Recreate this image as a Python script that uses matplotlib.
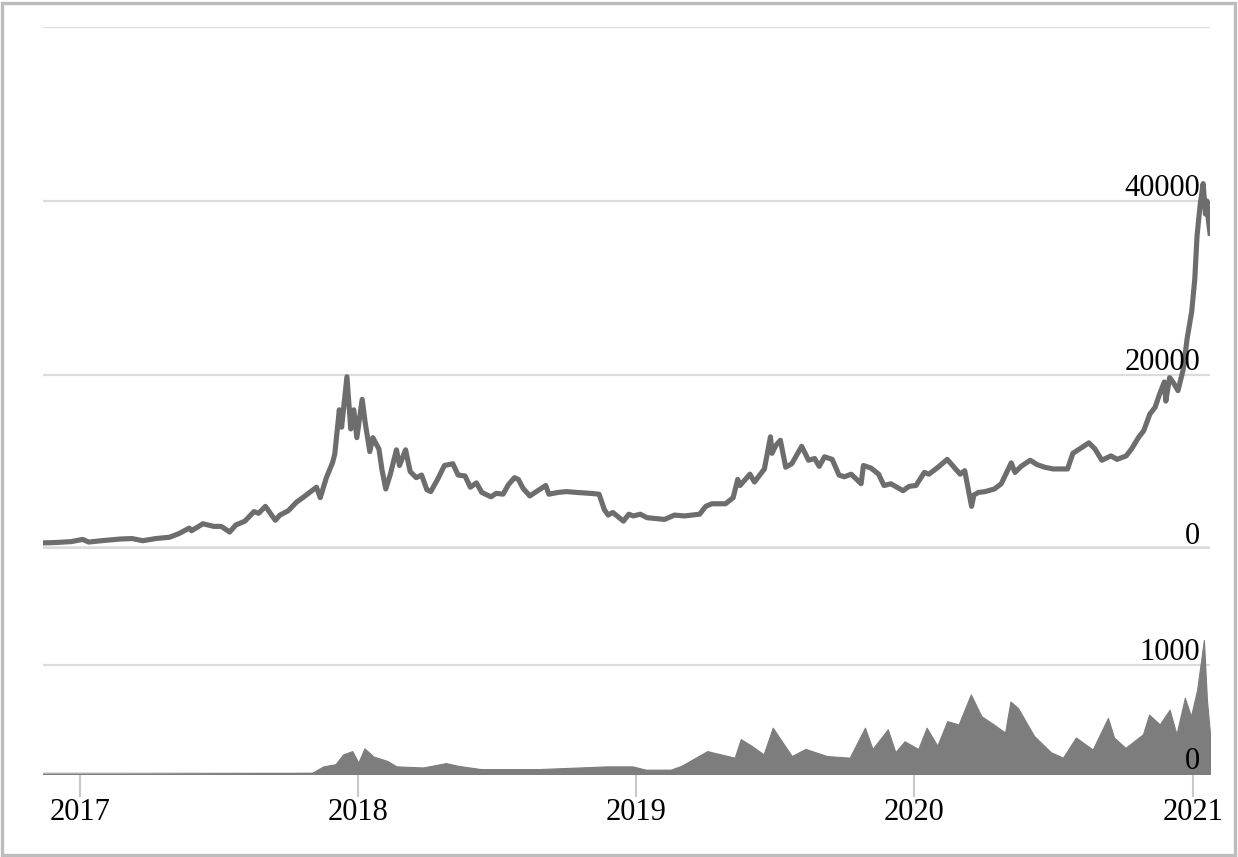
import pandas as pd
import matplotlib
matplotlib.use("Agg")
import matplotlib.pyplot as plt
from matplotlib.patches import Rectangle

plt.rcParams['font.family'] = ['Liberation Serif', 'DejaVu Serif']

# price readings (USD)
price_dates = [
    '2016-11-13', '2016-12-01', '2016-12-20', '2017-01-04', '2017-01-12', '2017-02-01',
    '2017-02-23', '2017-03-10', '2017-03-24', '2017-04-10', '2017-04-28', '2017-05-10',
    '2017-05-24', '2017-05-27', '2017-06-11', '2017-06-25', '2017-07-05', '2017-07-16',
    '2017-07-24', '2017-08-05', '2017-08-17', '2017-08-23', '2017-09-01', '2017-09-14',
    '2017-09-20', '2017-10-01', '2017-10-12', '2017-10-20', '2017-11-01', '2017-11-07',
    '2017-11-12', '2017-11-20', '2017-11-28', '2017-12-01', '2017-12-07', '2017-12-10',
    '2017-12-17', '2017-12-22', '2017-12-26', '2017-12-30', '2018-01-06', '2018-01-10',
    '2018-01-16', '2018-01-20', '2018-01-28', '2018-02-01', '2018-02-06', '2018-02-12',
    '2018-02-20', '2018-02-24', '2018-03-04', '2018-03-10', '2018-03-18', '2018-03-25',
    '2018-04-01', '2018-04-06', '2018-04-15', '2018-04-24', '2018-05-05', '2018-05-12',
    '2018-05-21', '2018-05-28', '2018-06-05', '2018-06-12', '2018-06-24', '2018-07-01',
    '2018-07-10', '2018-07-17', '2018-07-25', '2018-07-30', '2018-08-05', '2018-08-14',
    '2018-08-21', '2018-08-30', '2018-09-04', '2018-09-08', '2018-09-20', '2018-10-01',
    '2018-10-15', '2018-11-01', '2018-11-13', '2018-11-20', '2018-11-25', '2018-12-01',
    '2018-12-15', '2018-12-22', '2018-12-28', '2019-01-06', '2019-01-15', '2019-02-07',
    '2019-02-20', '2019-03-05', '2019-03-25', '2019-04-02', '2019-04-10', '2019-04-28',
    '2019-05-08', '2019-05-14', '2019-05-17', '2019-05-30', '2019-06-05', '2019-06-18',
    '2019-06-26', '2019-06-28', '2019-07-03', '2019-07-09', '2019-07-16', '2019-07-24',
    '2019-08-06', '2019-08-15', '2019-08-23', '2019-08-29', '2019-09-05', '2019-09-15',
    '2019-09-24', '2019-10-01', '2019-10-10', '2019-10-23', '2019-10-26', '2019-11-05',
    '2019-11-15', '2019-11-22', '2019-12-01', '2019-12-17', '2019-12-25', '2020-01-03',
    '2020-01-14', '2020-01-20', '2020-02-01', '2020-02-13', '2020-02-20', '2020-03-01',
    '2020-03-07', '2020-03-16', '2020-03-19', '2020-03-25', '2020-04-03', '2020-04-15',
    '2020-04-24', '2020-05-01', '2020-05-07', '2020-05-12', '2020-05-20', '2020-06-01',
    '2020-06-10', '2020-06-20', '2020-07-01', '2020-07-20', '2020-07-27', '2020-08-10',
    '2020-08-17', '2020-08-25', '2020-09-03', '2020-09-15', '2020-09-23', '2020-10-05',
    '2020-10-12', '2020-10-21', '2020-10-28', '2020-11-05', '2020-11-12', '2020-11-17',
    '2020-11-24', '2020-11-26', '2020-12-01', '2020-12-06', '2020-12-12', '2020-12-19',
    '2020-12-24', '2020-12-30', '2021-01-03', '2021-01-06', '2021-01-10', '2021-01-14',
    '2021-01-17', '2021-01-19', '2021-01-21', '2021-01-23',
]
price_values = [
    700, 750, 850, 1100, 800, 980,
    1150, 1200, 950, 1200, 1350, 1750,
    2400, 2100, 2900, 2600, 2600, 1950,
    2750, 3200, 4300, 4100, 4900, 3300,
    3900, 4400, 5400, 5900, 6700, 7100,
    5900, 8200, 9900, 10900, 16000, 14000,
    19800, 13800, 16000, 12800, 17200, 14500,
    11200, 12800, 11500, 9100, 6900, 8600,
    11400, 9600, 11400, 8900, 8200, 8500,
    6800, 6600, 8000, 9600, 9800, 8500,
    8400, 7100, 7600, 6500, 6000, 6400,
    6300, 7400, 8200, 8000, 7000, 6100,
    6500, 7000, 7300, 6300, 6500, 6600,
    6500, 6400, 6300, 4500, 3900, 4200,
    3200, 4000, 3800, 4000, 3600, 3400,
    3900, 3800, 4000, 4900, 5200, 5200,
    5900, 8000, 7300, 8600, 7700, 9200,
    12900, 11000, 11900, 12500, 9400, 9800,
    11800, 10200, 10400, 9500, 10600, 10300,
    8500, 8300, 8600, 7500, 9600, 9300,
    8600, 7300, 7500, 6700, 7200, 7300,
    8800, 8600, 9400, 10300, 9600, 8600,
    9000, 4900, 6200, 6500, 6600, 6900,
    7500, 8800, 9900, 8800, 9500, 10200,
    9700, 9400, 9200, 9200, 11000, 11800,
    12200, 11500, 10200, 10700, 10300, 10700,
    11500, 12800, 13600, 15500, 16300, 17600,
    19200, 17000, 19700, 19100, 18200, 20700,
    24200, 27300, 31000, 36000, 39500, 42000,
    38500, 40000, 37700, 36300,
]

# volume readings
volume_dates = [
    '2016-11-13', '2017-03-01', '2017-06-01', '2017-09-01', '2017-11-01', '2017-11-16',
    '2017-12-02', '2017-12-12', '2017-12-24', '2018-01-01', '2018-01-09', '2018-01-21',
    '2018-02-08', '2018-02-20', '2018-03-27', '2018-04-26', '2018-05-12', '2018-06-11',
    '2018-08-25', '2018-11-24', '2018-12-27', '2019-01-13', '2019-02-15', '2019-03-01',
    '2019-04-04', '2019-05-10', '2019-05-18', '2019-06-01', '2019-06-17', '2019-06-29',
    '2019-07-09', '2019-07-24', '2019-08-11', '2019-09-08', '2019-10-08', '2019-10-28',
    '2019-11-07', '2019-11-27', '2019-12-07', '2019-12-19', '2020-01-06', '2020-01-17',
    '2020-01-31', '2020-02-13', '2020-02-28', '2020-03-15', '2020-03-29', '2020-04-14',
    '2020-04-29', '2020-05-06', '2020-05-16', '2020-06-06', '2020-06-28', '2020-07-14',
    '2020-07-31', '2020-08-22', '2020-09-11', '2020-09-19', '2020-10-04', '2020-10-27',
    '2020-11-04', '2020-11-18', '2020-12-01', '2020-12-10', '2020-12-21', '2020-12-29',
    '2021-01-06', '2021-01-15', '2021-01-19', '2021-01-23',
]
volume_values = [
    3, 4, 6, 8, 10, 70,
    90, 180, 210, 105, 235, 160,
    120, 70, 60, 100, 75, 45,
    45, 70, 70, 40, 40, 75,
    210, 150, 320, 260, 180, 425,
    320, 165, 230, 165, 150, 425,
    230, 410, 200, 300, 230, 425,
    260, 485, 455, 730, 530, 455,
    380, 665, 605, 350, 200, 150,
    335, 225, 515, 335, 240, 365,
    545, 455, 590, 365, 700, 530,
    770, 1230, 680, 370,
]

price_ticks = [0, 20000, 40000, 60000]
price_labels = ['0', '20000', '40000', '']
volume_ticks = [0, 1000]
year_labels = ['2017', '2018', '2019', '2020', '2021']

W, H = 1238, 857
fig = plt.figure(figsize=(W / 100, H / 100), dpi=100)

x0, x1 = 43, 1210
ax_p = fig.add_axes([x0 / W, 1 - 549 / H, (x1 - x0) / W, (549 - 27) / H])
ax_v = fig.add_axes([x0 / W, 1 - 774 / H, (x1 - x0) / W, (774 - 560) / H])

start, end = pd.Timestamp('2016-11-13'), pd.Timestamp('2021-01-23')
pd_price = pd.to_datetime(price_dates)
pd_vol = pd.to_datetime(volume_dates)

grid_c = '#dcdcdc'
fs = 22

# price panel
ax_p.plot(pd_price, price_values, color='#6d6d6d', lw=3.7, solid_joinstyle='round', zorder=3)
ax_p.set_ylim(0, 60000)
for val, lab in zip(price_ticks, price_labels):
    ax_p.axhline(val, color=grid_c, lw=4 if val == 0 else 1.6, zorder=1)
    if lab:
        ax_p.annotate(lab, xy=(1, val), xycoords=('axes fraction', 'data'),
                      xytext=(-10, 5), textcoords='offset pixels',
                      ha='right', va='baseline', fontsize=fs, zorder=4)

# volume panel
ax_v.fill_between(pd_vol, volume_values, 0, color='#7d7d7d', lw=0.8, zorder=2)
ax_v.set_ylim(0, (774 - 560) / 109 * 1000)
for val in volume_ticks:
    ax_v.axhline(val, color=grid_c, lw=3.5 if val == 0 else 1.6, zorder=1)
    ax_v.annotate(str(val), xy=(1, val), xycoords=('axes fraction', 'data'),
                  xytext=(-10, 5), textcoords='offset pixels',
                  ha='right', va='baseline', fontsize=fs, zorder=4)

for ax in (ax_p, ax_v):
    ax.set_xlim(start, end)
    for s in ax.spines.values():
        s.set_visible(False)
    ax.set_yticks([])
    ax.patch.set_alpha(0)

ax_p.set_xticks([])
ax_v.set_xticks([pd.Timestamp(y + '-01-01') for y in year_labels])
ax_v.set_xticklabels(year_labels)
ax_v.tick_params(axis='x', length=16.5, width=1.5, color='#c8c8c8', pad=1, labelsize=fs)

# outer frame
fig.patches.append(Rectangle((2 / W, 2 / H), (W - 5) / W, (H - 5) / H, transform=fig.transFigure,
                             fill=False, edgecolor='#bdbdbd', lw=2.4))

fig.savefig('out.png', dpi=100)
